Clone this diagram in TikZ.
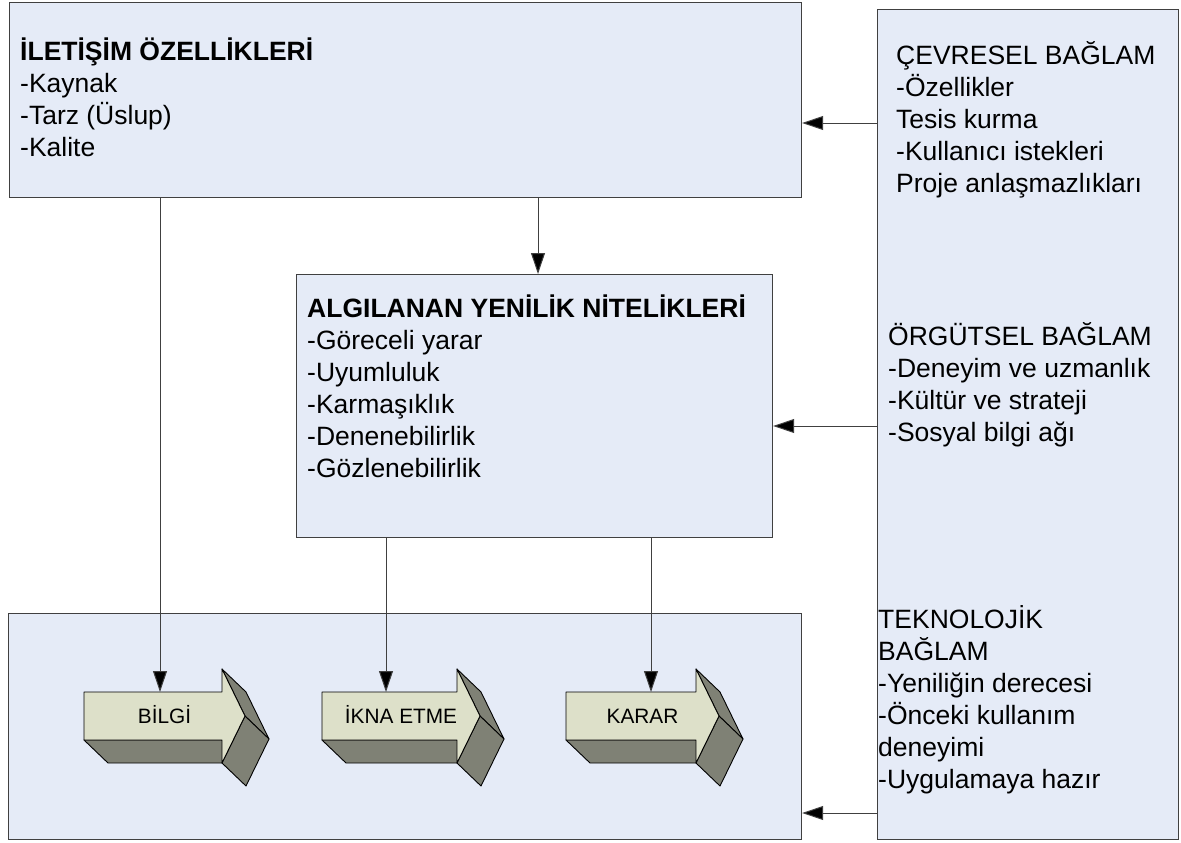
\documentclass[tikz,border=0pt]{standalone}
\usepackage{fontspec}
\setmainfont{Liberation Sans}
\usetikzlibrary{arrows.meta}

\definecolor{boxfill}{HTML}{E5EBF7}
\definecolor{boxline}{HTML}{404040}
\definecolor{facefront}{HTML}{DDE0C9}
\definecolor{faceside}{HTML}{7F8175}

% several lines set left-aligned, baseline on the first line
\newcommand\textlines[1]{\begin{tabular}[t]{@{}l@{}}#1\end{tabular}}

% block arrow with a 3D extrusion: #1 label node name, #2 left x, #3 head base x, #4 label
\newcommand\chevronarrow[4]{%
  \pgfmathsetmacro\tipx{#3+23}%
  \draw[sideface] (#2,740) -- (#3,740) -- ({#3+24},763) -- ({#2+24},763) -- cycle;
  \draw[sideface] (#3,669) -- ({#3+24},692) -- ({\tipx+24},739) -- (\tipx,716) -- cycle;
  \draw[sideface] (\tipx,716) -- ({\tipx+24},739) -- ({#3+24},786) -- (#3,763) -- cycle;
  \draw[frontface] (#2,692) -- (#3,692) -- (#3,669) -- (\tipx,716) -- (#3,763)
                   -- (#3,740) -- (#2,740) -- cycle;
  \node[steplabel] (#1) at ({(#2+\tipx)/2},723) {#4};
}

\tikzset{
  panel/.style={draw=boxline, line width=1.2pt, fill=boxfill, inner sep=0pt,
                anchor=north west},
  bodytext/.style={anchor=base west, inner sep=0pt,
                   font=\fontsize{26.5}{32}\selectfont},
  flow/.style={draw=black!75, line width=1pt,
               -{Triangle[length=21pt,width=14pt,fill=black]}},
  frontface/.style={fill=facefront, draw=black, line width=0.9pt, line join=round},
  sideface/.style={fill=faceside, draw=black, line width=0.9pt, line join=round},
  steplabel/.style={anchor=base, inner sep=0pt, font=\fontsize{20.8}{25}\selectfont}
}

\begin{document}
\begin{tikzpicture}[x=1pt, y=-1pt]
  \useasboundingbox (0,0) rectangle (1181,843);

  % panels
  \node[panel, minimum width=792pt, minimum height=195pt] (comm) at (9,2) {};
  \node[panel, minimum width=476pt, minimum height=263pt] (attr) at (296,274) {};
  \node[panel, minimum width=793pt, minimum height=226pt] (stages) at (8,613) {};
  \node[panel, minimum width=301pt, minimum height=830pt] (context) at (877,9) {};

  % panel texts
  \node[bodytext] (commtext) at (20,61) {\textlines{%
      \textbf{İLETİŞİM ÖZELLİKLERİ}\\-Kaynak\\-Tarz (Üslup)\\-Kalite}};
  \node[bodytext] (attrtext) at (307,317) {\textlines{%
      \textbf{ALGILANAN YENİLİK NİTELİKLERİ}\\-Göreceli yarar\\-Uyumluluk\\
      -Karmaşıklık\\-Denenebilirlik\\-Gözlenebilirlik}};
  \node[bodytext] (envtext) at (896,65) {\textlines{%
      ÇEVRESEL BAĞLAM\\-Özellikler\\Tesis kurma\\-Kullanıcı istekleri\\
      Proje anlaşmazlıkları}};
  \node[bodytext] (orgtext) at (888,345) {\textlines{%
      ÖRGÜTSEL BAĞLAM\\-Deneyim ve uzmanlık\\-Kültür ve strateji\\-Sosyal bilgi ağı}};
  \node[bodytext] (techtext) at (878,628) {\textlines{%
      TEKNOLOJİK\\BAĞLAM\\-Yeniliğin derecesi\\-Önceki kullanım\\deneyimi\\
      -Uygulamaya hazır}};

  % stage arrows
  \chevronarrow{bilgi}{84}{222}{BİLGİ}
  \chevronarrow{ikna}{322}{457}{İKNA ETME}
  \chevronarrow{karar}{566}{696}{KARAR}

  % connector end points
  \coordinate (bilgiTop) at (160,692);
  \coordinate (iknaTop) at (386,692);
  \coordinate (kararTop) at (651,692);
  \coordinate (attrIn) at (538,0);
  \coordinate (envOut) at (877,123);
  \coordinate (orgOut) at (877,426);
  \coordinate (techOut) at (877,813);

  % connectors
  \draw[flow] (comm.south -| bilgiTop) -- (bilgiTop);
  \draw[flow] (comm.south -| attrIn) -- (attr.north -| attrIn);
  \draw[flow] (attr.south -| iknaTop) -- (iknaTop);
  \draw[flow] (attr.south -| kararTop) -- (kararTop);
  \draw[flow] (envOut) -- (envOut -| comm.east);
  \draw[flow] (orgOut) -- (orgOut -| attr.east);
  \draw[flow] (techOut) -- (techOut -| stages.east);
\end{tikzpicture}
\end{document}
